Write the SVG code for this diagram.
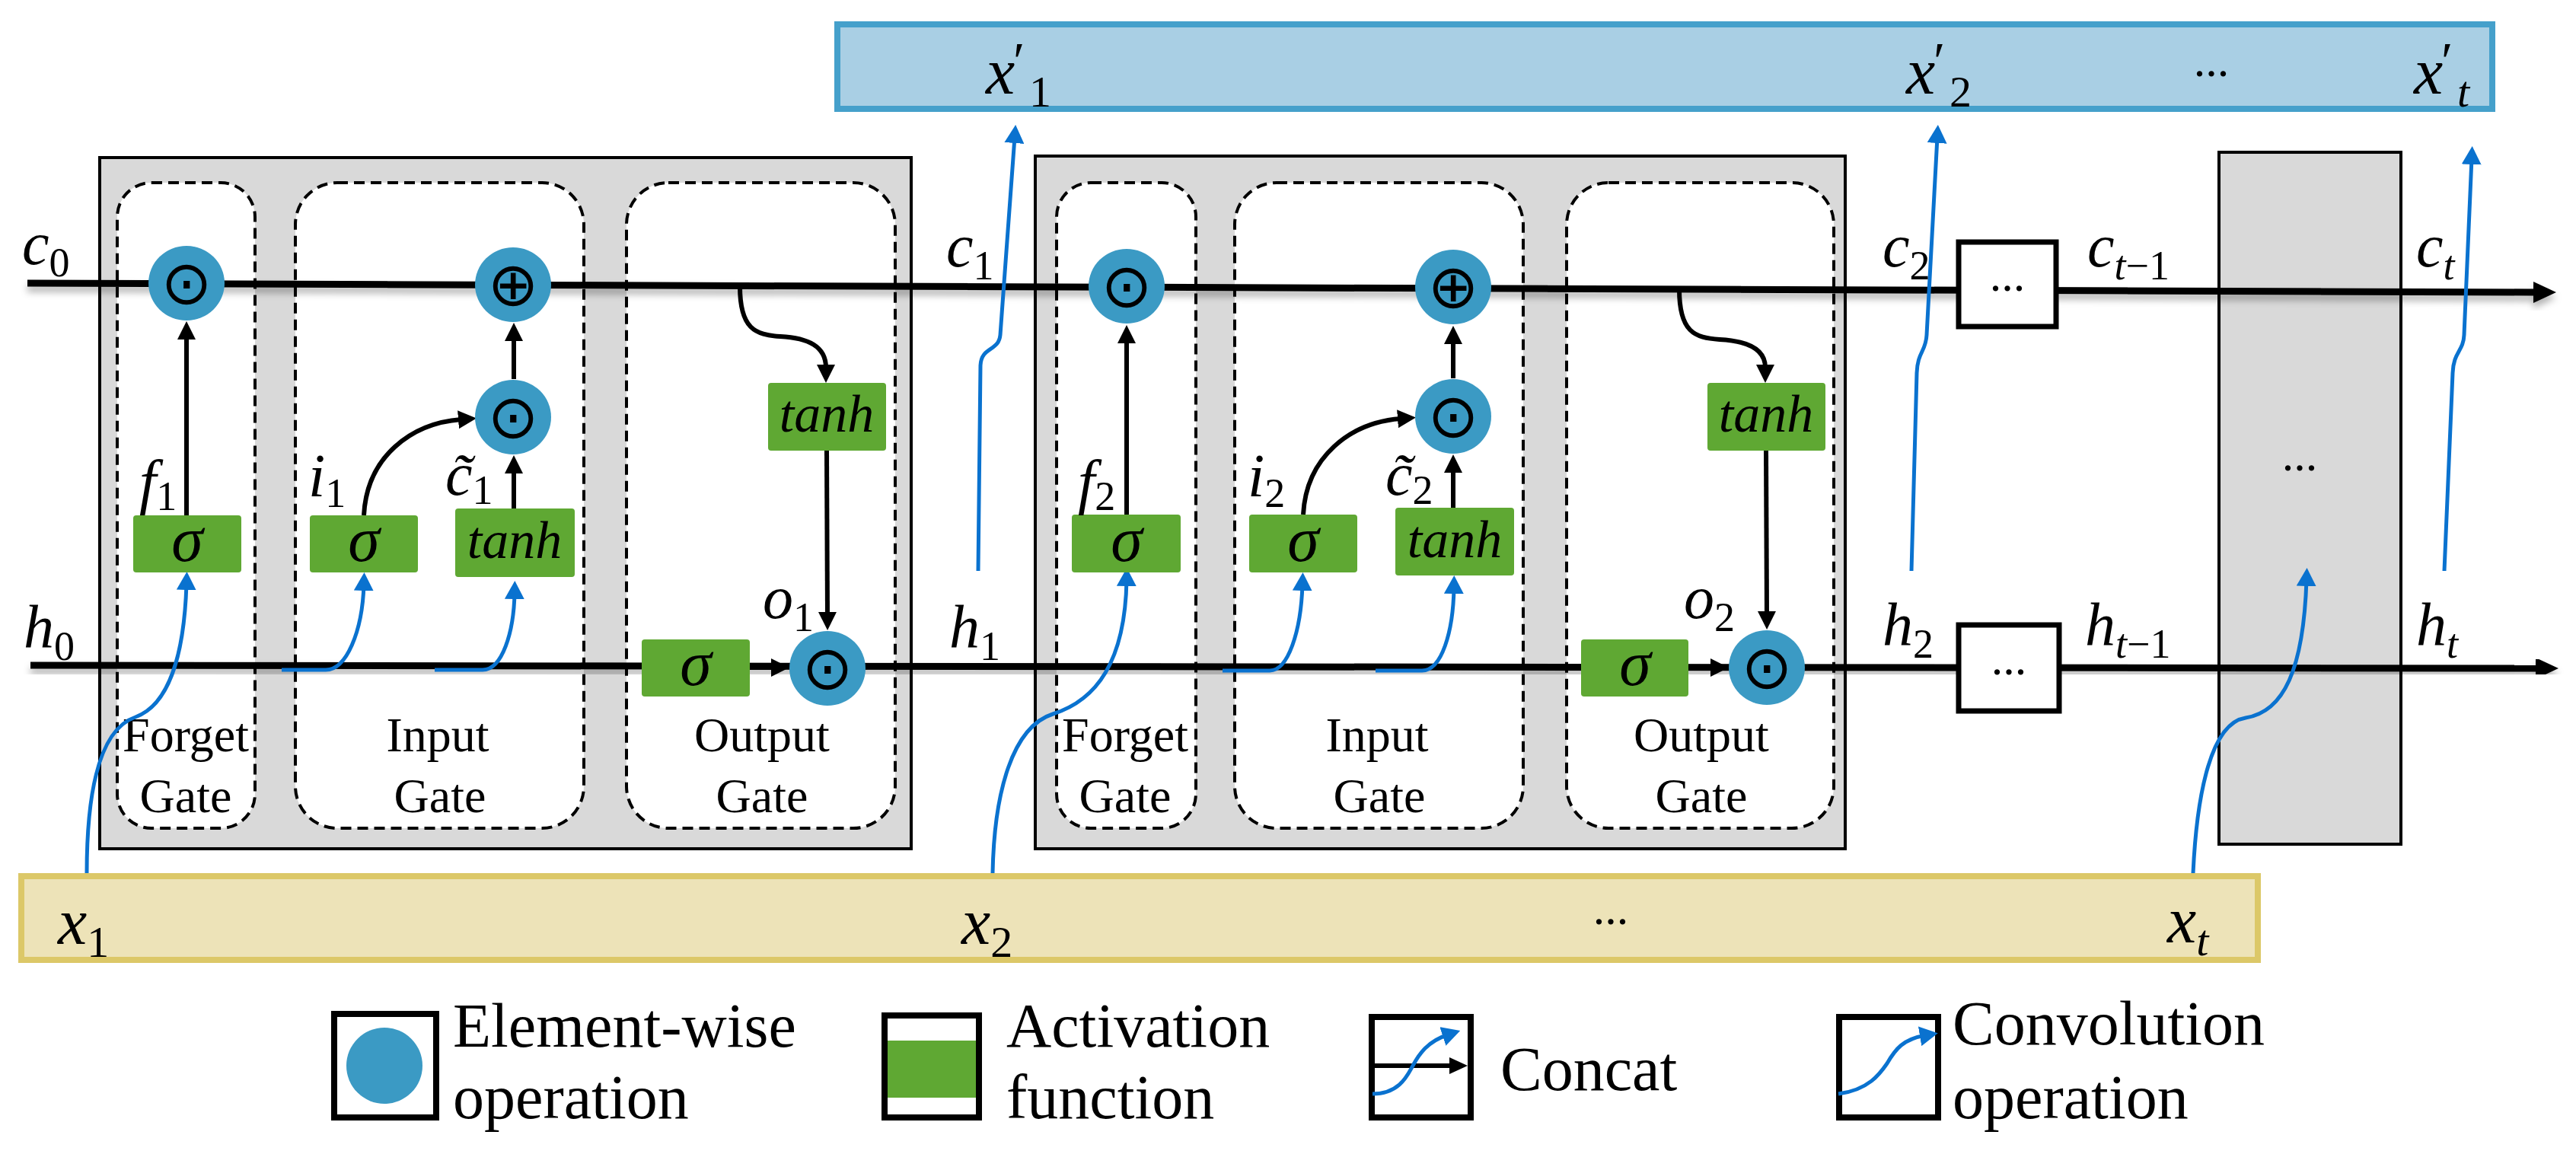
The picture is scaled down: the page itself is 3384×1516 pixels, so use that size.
<svg xmlns="http://www.w3.org/2000/svg" width="3384" height="1516" viewBox="0 0 3384 1516">
<style>
.bg{fill:#fff}
.cell{fill:#d9d9d9;stroke:#000;stroke-width:4}
.gate{fill:#fff;stroke:#000;stroke-width:4;stroke-dasharray:14 8}
.op{fill:#3b9ac4}
.act{fill:#5fa833}
.ell{fill:#fff;stroke:#000;stroke-width:7}
.main{stroke:#000;stroke-width:9;fill:none;marker-end:url(#mh);filter:url(#sh)}
.arr{stroke:#000;stroke-width:6;fill:none;marker-end:url(#ah)}
.conv{stroke:#0a72cf;stroke-width:5;fill:none;marker-end:url(#bh)}
.v{font-family:"Liberation Serif","Times New Roman","DejaVu Serif",serif;font-style:italic;font-size:80px;fill:#000}
.xv{font-size:86px}
.s{font-style:normal;font-size:54px}
.xs{font-style:normal;font-size:58px}
.si{font-style:italic}
.pr{font-style:normal;font-size:70px}
.sig{font-family:"Liberation Serif","Times New Roman","DejaVu Serif",serif;font-style:italic;font-size:84px;text-anchor:middle}
.tanh{font-family:"Liberation Serif","Times New Roman","DejaVu Serif",serif;font-style:italic;font-size:70px;text-anchor:middle}
.sym{font-family:"DejaVu Sans",sans-serif;font-size:80px;text-anchor:middle}
.gl{font-family:"Liberation Serif","Times New Roman",serif;font-size:64px;text-anchor:middle}
.dots{font-family:"Liberation Serif","Times New Roman",serif;font-size:62px;text-anchor:middle}
.leg{font-family:"Liberation Serif","Times New Roman",serif;font-size:82px}
.lbox{fill:#fff;stroke:#000;stroke-width:8}
</style>
<defs>
<marker id="mh" markerUnits="userSpaceOnUse" viewBox="0 0 30 28" refX="2" refY="14" markerWidth="30" markerHeight="28" orient="auto"><path d="M0,0 L30,14 L0,28 z" fill="#000"/></marker>
<marker id="ah" markerUnits="userSpaceOnUse" viewBox="0 0 24 24" refX="4" refY="12" markerWidth="24" markerHeight="24" orient="auto"><path d="M0,0 L24,12 L0,24 z" fill="#000"/></marker>
<marker id="bh" markerUnits="userSpaceOnUse" viewBox="0 0 24 26" refX="8" refY="13" markerWidth="24" markerHeight="26" orient="auto"><path d="M0,0 L24,13 L0,26 z" fill="#0a72cf"/></marker>
<marker id="sh2" markerUnits="userSpaceOnUse" viewBox="0 0 24 22" refX="4" refY="11" markerWidth="24" markerHeight="22" orient="auto"><path d="M0,0 L24,11 L0,22 z" fill="#000"/></marker>
<filter id="sh" x="-5%" y="-200%" width="110%" height="500%"><feDropShadow dx="0" dy="7" stdDeviation="5" flood-color="#000" flood-opacity="0.3"/></filter>
</defs>
<rect class="bg" x="0" y="0" width="3384" height="1516"/>

<g id="band-top">
<rect x="1100" y="32" width="2174" height="111" fill="#a9cfe4" stroke="#45a0cb" stroke-width="8"/>
<text class="v xv" x="1295" y="123">x<tspan class="pr" x="1331" y="104">′</tspan><tspan class="xs" x="1352" y="140">1</tspan></text>
<text class="v xv" x="2504" y="123">x<tspan class="pr" x="2540" y="104">′</tspan><tspan class="xs" x="2561" y="140">2</tspan></text>
<text class="dots" x="2905" y="100">...</text>
<text class="v xv" x="3171" y="123">x<tspan class="pr" x="3207" y="104">′</tspan><tspan class="xs si" x="3228" y="140">t</tspan></text>
</g>

<g id="band-bottom">
<rect x="28" y="1151" width="2938" height="110" fill="#ede3b8" stroke="#dcc868" stroke-width="8"/>
<text class="v xv" x="76" y="1240">x<tspan class="xs" dy="17">1</tspan></text>
<text class="v xv" x="1263" y="1240">x<tspan class="xs" dy="17">2</tspan></text>
<text class="dots" x="2116" y="1214">...</text>
<text class="v xv" x="2847" y="1238">x<tspan class="xs si" dy="17">t</tspan></text>
</g>

<g id="cell-1">
<rect class="cell" x="131" y="207" width="1066" height="908"/>
<rect class="gate" x="154" y="240" width="181" height="848" rx="45"/>
<rect class="gate" x="388" y="240" width="379" height="848" rx="55"/>
<rect class="gate" x="823" y="240" width="353" height="848" rx="55"/>
<text class="gl" x="244" y="987">Forget</text>
<text class="gl" x="244" y="1067">Gate</text>
<text class="gl" x="575" y="987">Input</text>
<text class="gl" x="578" y="1067">Gate</text>
<text class="gl" x="1001" y="987">Output</text>
<text class="gl" x="1001" y="1067">Gate</text>
</g>

<g id="cell-2">
<rect class="cell" x="1360" y="205" width="1064" height="910"/>
<rect class="gate" x="1388" y="240" width="183" height="848" rx="45"/>
<rect class="gate" x="1622" y="240" width="379" height="848" rx="55"/>
<rect class="gate" x="2058" y="240" width="351" height="848" rx="55"/>
<text class="gl" x="1478" y="987">Forget</text>
<text class="gl" x="1478" y="1067">Gate</text>
<text class="gl" x="1809" y="987">Input</text>
<text class="gl" x="1812" y="1067">Gate</text>
<text class="gl" x="2235" y="987">Output</text>
<text class="gl" x="2235" y="1067">Gate</text>
</g>

<g id="cell-t">
<rect class="cell" x="2915" y="200" width="239" height="909"/>
</g>

<g id="connectors">
<path class="main" d="M36,372 L3330,384"/>
<path class="main" d="M40,874 L3333,878"/>
<path class="arr" d="M245,677 L245,442"/>
<path class="arr" d="M675,668 L675,618"/>
<path class="arr" d="M675,498 L675,444"/>
<path class="arr" d="M478,677 C482,600 540,556 606,551"/>
<path class="arr" d="M972,376 C972,432 992,440 1025,442 C1062,444 1085,455 1085,483"/>
<path class="arr" d="M1086,592 L1087,808"/>
<path class="arr" d="M985,877 L1017,877"/>
<path class="arr" d="M1480,676 L1480,447"/>
<path class="arr" d="M1909,667 L1909,617"/>
<path class="arr" d="M1909,497 L1909,448"/>
<path class="arr" d="M1712,676 C1716,600 1774,555 1840,550"/>
<path class="arr" d="M2206,380 C2206,436 2226,444 2259,446 C2296,448 2319,459 2319,483"/>
<path class="arr" d="M2320,592 L2321,807"/>
<path class="arr" d="M2219,877 L2251,877"/>
<path class="conv" d="M114,1147 C114,1060 125,960 178,942 C222,926 242,860 245,767"/>
<path class="conv" d="M370,880 L428,880 C455,880 476,830 478,768"/>
<path class="conv" d="M571,880 L634,880 C660,880 675,830 676,779"/>
<path class="conv" d="M1304,1147 C1306,1040 1330,955 1383,938 C1440,920 1478,870 1480,762"/>
<path class="conv" d="M1606,881 L1668,881 C1692,881 1709,830 1711,768"/>
<path class="conv" d="M1807,881 L1868,881 C1894,881 1909,830 1910,772"/>
<path class="conv" d="M2881,1147 C2886,1040 2905,950 2950,943 C3000,935 3026,880 3030,762"/>
<path class="conv" d="M1285,750 L1288,480 C1289,455 1312,462 1314,440 L1333,180"/>
<path class="conv" d="M2511,750 L2518,490 C2519,462 2530,462 2531,440 L2545,180"/>
<path class="conv" d="M3211,750 L3222,490 C3223,462 3236,462 3237,440 L3247,208"/>
</g>

<g id="nodes-1">
<g id="fg1"><ellipse class="op" cx="245" cy="372" rx="50" ry="49"/><text class="sym" x="245" y="399">⊙</text></g>
<g id="add1"><ellipse class="op" cx="674" cy="374" rx="50" ry="49"/><text class="sym" x="674" y="401">⊕</text></g>
<g id="ig1"><ellipse class="op" cx="674" cy="548" rx="50" ry="49"/><text class="sym" x="674" y="575">⊙</text></g>
<g id="og1"><ellipse class="op" cx="1087" cy="878" rx="50" ry="49"/><text class="sym" x="1087" y="905">⊙</text></g>
<g id="fs1"><rect class="act" x="175" y="677" width="142" height="75" rx="4"/><text class="sig" x="246" y="737">σ</text></g>
<g id="is1"><rect class="act" x="407" y="677" width="142" height="75" rx="4"/><text class="sig" x="478" y="737">σ</text></g>
<g id="it1"><rect class="act" x="598" y="668" width="157" height="90" rx="4"/><text class="tanh" x="676" y="733">tanh</text></g>
<g id="os1"><rect class="act" x="843" y="840" width="142" height="75" rx="4"/><text class="sig" x="914" y="900">σ</text></g>
<g id="ot1"><rect class="act" x="1009" y="503" width="155" height="89" rx="4"/><text class="tanh" x="1086" y="567">tanh</text></g>
</g>

<g id="nodes-2">
<g id="fg2"><ellipse class="op" cx="1480" cy="376" rx="50" ry="49"/><text class="sym" x="1480" y="403">⊙</text></g>
<g id="add2"><ellipse class="op" cx="1909" cy="377" rx="50" ry="49"/><text class="sym" x="1909" y="404">⊕</text></g>
<g id="ig2"><ellipse class="op" cx="1909" cy="547" rx="50" ry="49"/><text class="sym" x="1909" y="574">⊙</text></g>
<g id="og2"><ellipse class="op" cx="2321" cy="877" rx="50" ry="49"/><text class="sym" x="2321" y="904">⊙</text></g>
<g id="fs2"><rect class="act" x="1408" y="676" width="143" height="76" rx="4"/><text class="sig" x="1480" y="737">σ</text></g>
<g id="is2"><rect class="act" x="1641" y="676" width="142" height="76" rx="4"/><text class="sig" x="1712" y="737">σ</text></g>
<g id="it2"><rect class="act" x="1833" y="667" width="156" height="89" rx="4"/><text class="tanh" x="1911" y="732">tanh</text></g>
<g id="os2"><rect class="act" x="2077" y="840" width="141" height="75" rx="4"/><text class="sig" x="2148" y="900">σ</text></g>
<g id="ot2"><rect class="act" x="2243" y="503" width="155" height="89" rx="4"/><text class="tanh" x="2320" y="567">tanh</text></g>
</g>

<g id="skip-c"><rect class="ell" x="2573" y="318" width="128" height="111"/><text class="dots" x="2637" y="382">...</text></g>
<g id="skip-h"><rect class="ell" x="2573" y="821" width="132" height="113"/><text class="dots" x="2639" y="886">...</text></g>
<g id="cell-t-label"><text class="dots" x="3021" y="618">...</text></g>

<g id="labels">
<text class="v" x="29" y="347">c<tspan class="s" dy="16">0</tspan></text>
<text class="v" x="31" y="850">h<tspan class="s" dy="17">0</tspan></text>
<text class="v" x="183" y="660">f<tspan class="s" dy="10">1</tspan></text>
<text class="v" x="405" y="652">i<tspan class="s" dy="14">1</tspan></text>
<text class="v" x="585" y="650">c&#x303;<tspan class="s" dy="12">1</tspan></text>
<text class="v" x="1002" y="812">o<tspan class="s" dy="17">1</tspan></text>
<text class="v" x="1243" y="350">c<tspan class="s" dy="17">1</tspan></text>
<text class="v" x="1247" y="850">h<tspan class="s" dy="17">1</tspan></text>
<text class="v" x="1416" y="660">f<tspan class="s" dy="10">2</tspan></text>
<text class="v" x="1639" y="652">i<tspan class="s" dy="14">2</tspan></text>
<text class="v" x="1820" y="650">c&#x303;<tspan class="s" dy="12">2</tspan></text>
<text class="v" x="2212" y="812">o<tspan class="s" dy="17">2</tspan></text>
<text class="v" x="2473" y="350">c<tspan class="s" dy="17">2</tspan></text>
<text class="v" x="2473" y="847">h<tspan class="s" dy="17">2</tspan></text>
<text class="v" x="2742" y="350">c<tspan class="s" dy="17"><tspan class="si">t</tspan>−1</tspan></text>
<text class="v" x="2739" y="847">h<tspan class="s" dy="17"><tspan class="si">t</tspan>−1</tspan></text>
<text class="v" x="3174" y="350">c<tspan class="s si" dy="17">t</tspan></text>
<text class="v" x="3174" y="847">h<tspan class="s si" dy="17">t</tspan></text>
</g>

<g id="legend">
<g id="leg-op"><rect class="lbox" x="439" y="1332" width="134" height="136"/><circle class="op" cx="505" cy="1400" r="50"/><text class="leg" x="595" y="1375">Element-wise</text><text class="leg" x="595" y="1469">operation</text></g>
<g id="leg-act"><rect class="lbox" x="1162" y="1334" width="124" height="134"/><rect class="act" x="1166" y="1367" width="116" height="75"/><text class="leg" x="1322" y="1375">Activation</text><text class="leg" x="1322" y="1469">function</text></g>
<g id="leg-concat"><rect class="lbox" x="1802" y="1336" width="130" height="132"/><path d="M1802,1400 L1908,1400" stroke="#000" stroke-width="6" fill="none" marker-end="url(#sh2)"/><path class="conv" d="M1803,1437 C1840,1437 1850,1410 1856,1400 C1864,1385 1875,1368 1903,1359"/><text class="leg" x="1971" y="1432">Concat</text></g>
<g id="leg-conv"><rect class="lbox" x="2416" y="1336" width="130" height="132"/><path class="conv" d="M2415,1437 C2455,1432 2470,1410 2479,1397 C2490,1378 2500,1365 2530,1360"/><text class="leg" x="2565" y="1372">Convolution</text><text class="leg" x="2565" y="1469">operation</text></g>
</g>
</svg>
